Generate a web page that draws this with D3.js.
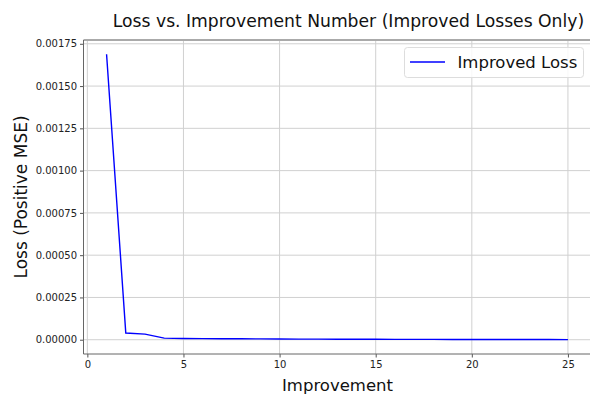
<!DOCTYPE html>
<html>
<head>
<meta charset="utf-8">
<script src="https://cdn.jsdelivr.net/npm/d3@7"></script>
<style>
  body { margin: 0; background: #fff; }
  text { font-family: "DejaVu Sans", sans-serif; }
</style>
</head>
<body>
<script>
// improvement number vs loss
var improvements = [1, 2, 3, 4, 5, 6, 7, 8, 9, 10, 11, 12, 13, 14, 15, 16, 17, 18, 19, 20, 21, 22, 23, 24, 25];
var losses = [0.001688, 0.0000395, 0.000033, 0.0000095, 0.0000075, 0.0000068, 0.0000062, 0.0000055, 0.0000048, 0.0000042,
              0.0000037, 0.0000033, 0.000003, 0.0000027, 0.0000024, 0.0000022, 0.000002, 0.0000018, 0.0000016, 0.0000015,
              0.0000013, 0.0000012, 0.0000011, 0.000001, 0.0000009];
var xTicks = [0, 5, 10, 15, 20, 25];
var yTicks = [0, 0.00025, 0.0005, 0.00075, 0.001, 0.00125, 0.0015, 0.00175];

var w = 590, h = 394;
var padLeft = 83.5, padRight = 591, padTop = 40, padBottom = 354;

var svg = d3.select("body")
            .append("svg")
            .attr("width", w)
            .attr("height", h);

var data = improvements.map(function(d, i) { return {x: d, y: losses[i]}; });

var xScale = d3.scaleLinear()
               .domain([-0.2, 26.2])
               .range([padLeft, padRight]);

var yScale = d3.scaleLinear()
               .domain([-0.0000844, 0.0017724])
               .range([padBottom, padTop]);

// grid
svg.append("g").selectAll("line")
   .data(xTicks)
   .enter().append("line")
   .attr("x1", function(d) { return xScale(d); })
   .attr("x2", function(d) { return xScale(d); })
   .attr("y1", padTop).attr("y2", padBottom)
   .attr("stroke", "#d0d0d0").attr("stroke-width", 1);

svg.append("g").selectAll("line")
   .data(yTicks)
   .enter().append("line")
   .attr("x1", padLeft).attr("x2", padRight)
   .attr("y1", function(d) { return yScale(d); })
   .attr("y2", function(d) { return yScale(d); })
   .attr("stroke", "#d0d0d0").attr("stroke-width", 1);

// line
var line = d3.line()
             .x(function(d) { return xScale(d.x); })
             .y(function(d) { return yScale(d.y); });

svg.append("path")
   .datum(data)
   .attr("d", line)
   .attr("fill", "none")
   .attr("stroke", "#0000ff")
   .attr("stroke-width", 1.4);

// axes
var x_axis = d3.axisBottom(xScale).tickValues(xTicks).tickSize(3.5).tickPadding(3).tickFormat(d3.format("d"));
var y_axis = d3.axisLeft(yScale).tickValues(yTicks).tickSize(3.5).tickPadding(3).tickFormat(d3.format(".5f"));

var gx = svg.append("g")
   .attr("transform", "translate(0," + padBottom + ")")
   .call(x_axis);
var gy = svg.append("g")
   .attr("transform", "translate(" + padLeft + ",0)")
   .call(y_axis);

[gx, gy].forEach(function(g) {
  g.select(".domain").remove();
  g.selectAll("line").attr("stroke", "#555");
  g.selectAll("text").style("font-size", "10px").attr("fill", "#222")
   .style("font-family", "DejaVu Sans");
});

// spines
svg.append("line").attr("x1", padLeft).attr("x2", padRight).attr("y1", padTop).attr("y2", padTop)
   .attr("stroke", "#aaa").attr("stroke-width", 2);
svg.append("line").attr("x1", padLeft).attr("x2", padLeft).attr("y1", padTop).attr("y2", padBottom)
   .attr("stroke", "#666").attr("stroke-width", 1);
svg.append("line").attr("x1", padLeft).attr("x2", padRight).attr("y1", padBottom).attr("y2", padBottom)
   .attr("stroke", "#666").attr("stroke-width", 1);

// title and labels
svg.append("text")
   .attr("x", 348.5)
   .attr("y", 26.5)
   .attr("text-anchor", "middle")
   .style("font-size", "17.2px")
   .attr("fill", "#111")
   .text("Loss vs. Improvement Number (Improved Losses Only)");

svg.append("text")
   .attr("x", 337.5)
   .attr("y", 391)
   .attr("text-anchor", "middle")
   .style("font-size", "16.5px")
   .attr("fill", "#111")
   .text("Improvement");

svg.append("text")
   .attr("x", -197)
   .attr("y", 27)
   .attr("text-anchor", "middle")
   .attr("transform", "rotate(-90)")
   .style("font-size", "17px")
   .attr("fill", "#111")
   .text("Loss (Positive MSE)");

// legend
var lg = svg.append("g");
lg.append("rect")
  .attr("x", 404.5).attr("y", 47.5)
  .attr("width", 179).attr("height", 30)
  .attr("rx", 3)
  .attr("fill", "#fff").attr("fill-opacity", 0.85)
  .attr("stroke", "#ddd");
lg.append("line")
  .attr("x1", 410).attr("x2", 445).attr("y1", 62).attr("y2", 62)
  .attr("stroke", "#0000ff").attr("stroke-width", 1.4);
lg.append("text")
  .attr("x", 457.5).attr("y", 68)
  .style("font-size", "16.5px")
  .attr("fill", "#111")
  .text("Improved Loss");
</script>
</body>
</html>
